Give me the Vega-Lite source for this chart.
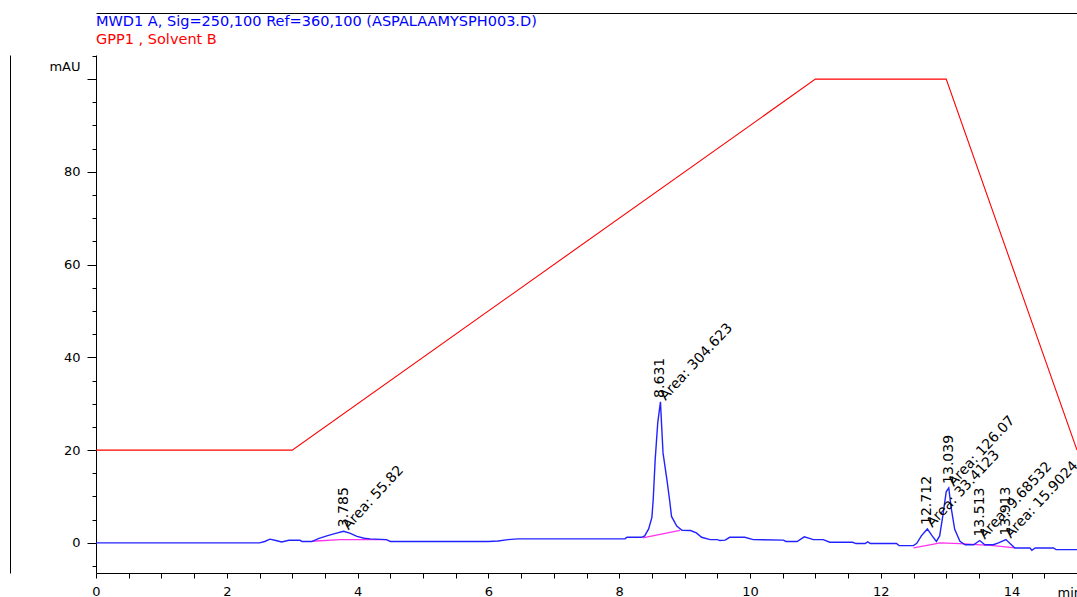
{
  "$schema": "https://vega.github.io/schema/vega-lite/v6.json",
  "width": 981,
  "height": 518,
  "autosize": {"type": "none"},
  "padding": {"left": 96, "top": 55, "right": 0, "bottom": 24},
  "background": "white",
  "title": {
    "text": "MWD1 A, Sig=250,100 Ref=360,100 (ASPALAAMYSPH003.D)",
    "subtitle": "GPP1 , Solvent B",
    "anchor": "start",
    "frame": "group",
    "font": "DejaVu Sans",
    "subtitleFont": "DejaVu Sans",
    "fontSize": 14.5,
    "subtitleFontSize": 14.5,
    "fontWeight": "normal",
    "subtitleFontWeight": "normal",
    "color": "#0000ff",
    "subtitleColor": "#ff0000",
    "offset": -34,
    "subtitlePadding": 3
  },
  "config": {
    "view": {"stroke": null},
    "font": "DejaVu Sans",
    "axis": {
      "domainColor": "#000000",
      "tickColor": "#000000",
      "labelColor": "#000000",
      "titleColor": "#000000",
      "domainWidth": 1,
      "tickWidth": 1,
      "grid": false,
      "labelFont": "DejaVu Sans",
      "titleFont": "DejaVu Sans",
      "labelFontSize": 13,
      "titleFontSize": 13,
      "titleFontWeight": "normal",
      "labelFlush": false,
      "labelOverlap": false,
      "labelBound": false
    }
  },
  "resolve": {"axis": {"x": "independent", "y": "independent"}},
  "datasets": {
    "gradient": [
      {"time": 0, "solventB": 20},
      {"time": 3, "solventB": 20},
      {"time": 11, "solventB": 100},
      {"time": 13, "solventB": 100},
      {"time": 15, "solventB": 20}
    ],
    "signal": [
      {"time": 0, "mAU": 0},
      {"time": 2.5, "mAU": 0},
      {"time": 2.58, "mAU": 0.3},
      {"time": 2.66, "mAU": 0.8},
      {"time": 2.75, "mAU": 0.5},
      {"time": 2.84, "mAU": 0.2},
      {"time": 2.95, "mAU": 0.55},
      {"time": 3.12, "mAU": 0.55},
      {"time": 3.15, "mAU": 0.28},
      {"time": 3.3, "mAU": 0.28},
      {"time": 3.4, "mAU": 0.9},
      {"time": 3.53, "mAU": 1.5},
      {"time": 3.65, "mAU": 2.0},
      {"time": 3.785, "mAU": 2.5},
      {"time": 3.88, "mAU": 2.1},
      {"time": 3.99, "mAU": 1.4},
      {"time": 4.1, "mAU": 1.0},
      {"time": 4.19, "mAU": 0.86},
      {"time": 4.44, "mAU": 0.7},
      {"time": 4.5, "mAU": 0.3},
      {"time": 6.0, "mAU": 0.3},
      {"time": 6.15, "mAU": 0.4},
      {"time": 6.3, "mAU": 0.7},
      {"time": 6.45, "mAU": 0.85},
      {"time": 7.71, "mAU": 0.86},
      {"time": 8.09, "mAU": 0.9},
      {"time": 8.12, "mAU": 1.2},
      {"time": 8.34, "mAU": 1.2},
      {"time": 8.39, "mAU": 1.5},
      {"time": 8.45, "mAU": 3.0},
      {"time": 8.5, "mAU": 5.5},
      {"time": 8.52, "mAU": 9.3},
      {"time": 8.55, "mAU": 17.9},
      {"time": 8.59, "mAU": 26},
      {"time": 8.631, "mAU": 30.4},
      {"time": 8.65, "mAU": 25},
      {"time": 8.67, "mAU": 19.4},
      {"time": 8.73, "mAU": 13.6},
      {"time": 8.77, "mAU": 9.3},
      {"time": 8.8, "mAU": 5.7},
      {"time": 8.88, "mAU": 3.6},
      {"time": 8.96, "mAU": 2.7},
      {"time": 9.09, "mAU": 2.65},
      {"time": 9.18, "mAU": 2.15},
      {"time": 9.26, "mAU": 1.2},
      {"time": 9.39, "mAU": 0.7},
      {"time": 9.5, "mAU": 0.7},
      {"time": 9.54, "mAU": 0.5},
      {"time": 9.62, "mAU": 0.6},
      {"time": 9.69, "mAU": 1.2},
      {"time": 9.92, "mAU": 1.2},
      {"time": 10.05, "mAU": 0.7},
      {"time": 10.51, "mAU": 0.6},
      {"time": 10.55, "mAU": 0.3},
      {"time": 10.72, "mAU": 0.3},
      {"time": 10.83, "mAU": 1.3},
      {"time": 10.97, "mAU": 0.7},
      {"time": 11.12, "mAU": 0.7},
      {"time": 11.22, "mAU": 0.13},
      {"time": 11.57, "mAU": 0.13},
      {"time": 11.62, "mAU": -0.15},
      {"time": 11.76, "mAU": -0.15},
      {"time": 11.8, "mAU": 0.2},
      {"time": 11.84, "mAU": -0.15},
      {"time": 12.24, "mAU": -0.15},
      {"time": 12.28, "mAU": -0.6},
      {"time": 12.5, "mAU": -0.6},
      {"time": 12.55, "mAU": -0.1},
      {"time": 12.62, "mAU": 1.5},
      {"time": 12.712, "mAU": 3.0},
      {"time": 12.78, "mAU": 1.6},
      {"time": 12.85, "mAU": 0.3},
      {"time": 12.9, "mAU": 1.5},
      {"time": 12.95, "mAU": 6},
      {"time": 13.0, "mAU": 11},
      {"time": 13.039, "mAU": 11.85},
      {"time": 13.08, "mAU": 7.2},
      {"time": 13.13, "mAU": 2.9},
      {"time": 13.21, "mAU": 0.35},
      {"time": 13.29, "mAU": -0.4},
      {"time": 13.42, "mAU": -0.4},
      {"time": 13.513, "mAU": 0.5},
      {"time": 13.59, "mAU": -0.4},
      {"time": 13.72, "mAU": -0.4},
      {"time": 13.8, "mAU": 0.0},
      {"time": 13.913, "mAU": 0.7},
      {"time": 13.98, "mAU": -0.2},
      {"time": 14.05, "mAU": -1.1},
      {"time": 14.28, "mAU": -1.1},
      {"time": 14.31, "mAU": -1.6},
      {"time": 14.36, "mAU": -1.1},
      {"time": 14.64, "mAU": -1.1},
      {"time": 14.68, "mAU": -1.45},
      {"time": 15.0, "mAU": -1.45}
    ],
    "baseline": [
      {"segment": "a", "time": 3.3, "mAU": 0.35},
      {"segment": "a", "time": 3.73, "mAU": 0.71},
      {"segment": "a", "time": 4.44, "mAU": 0.71},
      {"segment": "b", "time": 8.36, "mAU": 1.07},
      {"segment": "b", "time": 8.93, "mAU": 2.7},
      {"segment": "c", "time": 12.5, "mAU": -1.1},
      {"segment": "c", "time": 12.83, "mAU": -0.2},
      {"segment": "c", "time": 12.9, "mAU": 0.0},
      {"segment": "c", "time": 13.21, "mAU": -0.15},
      {"segment": "c", "time": 13.72, "mAU": -0.6},
      {"segment": "c", "time": 14.05, "mAU": -1.1}
    ],
    "peaks": [
      {"rt": 3.785, "height": 2.5, "area": "Area: 55.82"},
      {"rt": 8.631, "height": 30.4, "area": "Area: 304.623"},
      {"rt": 12.712, "height": 3.0, "area": "Area: 33.4123"},
      {"rt": 13.039, "height": 11.85, "area": "Area: 126.07"},
      {"rt": 13.513, "height": 0.5, "area": "Area: 9.68532"},
      {"rt": 13.913, "height": 0.7, "area": "Area: 15.9024"}
    ]
  },
  "layer": [
    {
      "data": {"name": "gradient"},
      "mark": {"type": "line", "color": "#ff0000", "strokeWidth": 1.1},
      "encoding": {
        "x": {
          "field": "time",
          "type": "quantitative",
          "scale": {"domain": [0, 15], "nice": false, "zero": false},
          "axis": {
            "orient": "top",
            "offset": 42,
            "domain": true,
            "ticks": false,
            "labels": false,
            "title": null
          }
        },
        "y": {
          "field": "solventB",
          "type": "quantitative",
          "scale": {"domain": [-6.5, 105.2], "nice": false, "zero": false},
          "axis": {
            "values": [-5, 5, 10, 15, 25, 30, 35, 45, 50, 55, 65, 70, 75, 85, 90, 95, 105],
            "domain": false,
            "labels": false,
            "tickSize": 4,
            "title": null
          }
        }
      }
    },
    {
      "data": {"name": "baseline"},
      "mark": {"type": "line", "color": "#ff33ee", "strokeWidth": 1.3},
      "encoding": {
        "x": {"field": "time", "type": "quantitative", "axis": null},
        "y": {
          "field": "mAU",
          "type": "quantitative",
          "axis": {
            "orient": "left",
            "offset": 86,
            "domain": true,
            "ticks": false,
            "labels": false,
            "title": null
          }
        },
        "detail": {"field": "segment", "type": "nominal"}
      }
    },
    {
      "data": {"name": "signal"},
      "mark": {"type": "line", "color": "#2222ff", "strokeWidth": 1.4},
      "encoding": {
        "x": {
          "field": "time",
          "type": "quantitative",
          "axis": {
            "orient": "bottom",
            "values": [0, 0.5, 1, 1.5, 2, 2.5, 3, 3.5, 4, 4.5, 5, 5.5, 6, 6.5, 7, 7.5, 8, 8.5, 9, 9.5, 10, 10.5, 11, 11.5, 12, 12.5, 13, 13.5, 14, 14.5, 15],
            "labelExpr": "datum.value % 2 === 0 ? format(datum.value, 'd') : ''",
            "tickSize": 5,
            "labelPadding": 7,
            "title": "min",
            "titleX": 961,
            "titleY": 23,
            "titleAlign": "left",
            "titleBaseline": "alphabetic",
            "titleAnchor": null
          }
        },
        "y": {
          "field": "mAU",
          "type": "quantitative",
          "axis": {
            "orient": "left",
            "values": [0, 20, 40, 60, 80, 100],
            "labelExpr": "datum.value === 100 ? '' : format(datum.value, 'd')",
            "tickSize": 9,
            "labelPadding": 7,
            "title": "mAU",
            "titleAngle": 0,
            "titleX": -16,
            "titleY": 15,
            "titleAlign": "right",
            "titleBaseline": "alphabetic",
            "titleAnchor": null
          }
        }
      }
    },
    {
      "data": {"name": "peaks"},
      "mark": {
        "type": "text",
        "angle": -90,
        "align": "left",
        "baseline": "middle",
        "dx": 4,
        "fontSize": 14,
        "font": "DejaVu Sans",
        "color": "#000000"
      },
      "encoding": {
        "x": {"field": "rt", "type": "quantitative", "axis": null},
        "y": {"field": "height", "type": "quantitative", "axis": null},
        "text": {"field": "rt", "type": "quantitative", "format": ".3f"}
      }
    },
    {
      "data": {"name": "peaks"},
      "mark": {
        "type": "text",
        "angle": -47,
        "align": "left",
        "baseline": "alphabetic",
        "dx": 4,
        "dy": 3,
        "fontSize": 14,
        "font": "DejaVu Sans",
        "color": "#000000"
      },
      "encoding": {
        "x": {"field": "rt", "type": "quantitative", "axis": null},
        "y": {"field": "height", "type": "quantitative", "axis": null},
        "text": {"field": "area", "type": "nominal"}
      }
    }
  ]
}
